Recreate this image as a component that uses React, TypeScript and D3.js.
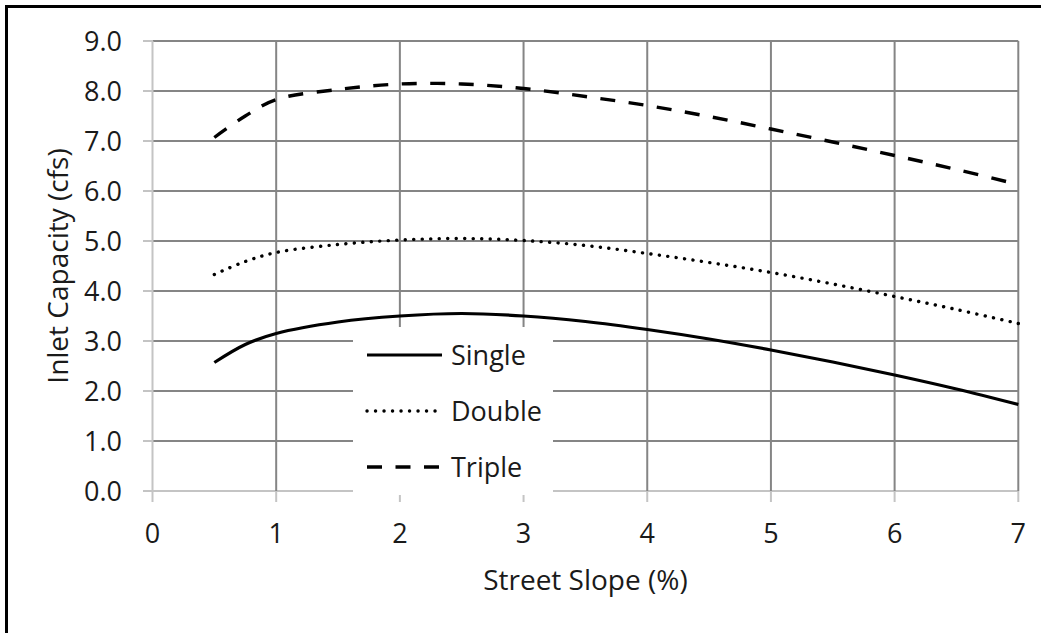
import React from "react";
import * as d3 from "d3";

const slopes = [0.5, 0.75, 1, 1.5, 2, 2.5, 3, 3.5, 4, 4.5, 5, 5.5, 6, 6.5, 7];
const single = [2.57, 2.93, 3.15, 3.38, 3.5, 3.55, 3.5, 3.39, 3.23, 3.04, 2.82, 2.58, 2.32, 2.04, 1.73];
const double = [4.33, 4.59, 4.77, 4.93, 5.02, 5.05, 5.01, 4.91, 4.75, 4.57, 4.37, 4.14, 3.89, 3.63, 3.35];
const triple = [7.07, 7.5, 7.83, 8.03, 8.14, 8.14, 8.05, 7.89, 7.71, 7.49, 7.24, 6.98, 6.71, 6.43, 6.13];
const seriesNames = ["Single", "Double", "Triple"];
const xTicks = [0, 1, 2, 3, 4, 5, 6, 7];
const yTicks = [0, 1, 2, 3, 4, 5, 6, 7, 8, 9];

const FONT = "'Open Sans', sans-serif";

export default function App() {
  const x = d3.scaleLinear().domain([0, 7]).range([152.5, 1018.3]);
  const y = d3.scaleLinear().domain([0, 9]).range([491, 41]);
  const line = d3
    .line<[number, number]>()
    .x((d) => x(d[0]))
    .y((d) => y(d[1]))
    .curve(d3.curveCatmullRom.alpha(0.5));

  const series = [single, double, triple];
  const styles = [
    { dash: undefined, cap: "butt", w: 3.2 },
    { dash: "0.1 8.4", cap: "round", w: 3.4 },
    { dash: "15 13.5", cap: "butt", w: 3.4 },
  ];

  const legendX = 353;
  const legendY = 327;
  const legendRows = [355, 411, 467];

  return (
    <svg
      width={1041}
      height={633}
      style={{ position: "absolute", left: 0, top: 0, background: "#fff" }}
    >
      <rect x={0} y={0} width={1041} height={633} fill="#fff" />
      {/* outer border */}
      <rect x={6.5} y={6.5} width={1100} height={700} fill="none" stroke="#000" strokeWidth={3} />

      {/* horizontal gridlines */}
      {yTicks.map((t) => (
        <line
          key={"hy" + t}
          x1={x(0)}
          x2={x(7)}
          y1={y(t)}
          y2={y(t)}
          stroke={t === 0 ? "#c4c4c4" : "#858585"}
          strokeWidth={2}
        />
      ))}
      {/* vertical gridlines */}
      {xTicks.map((t) => (
        <line
          key={"vx" + t}
          x1={x(t)}
          x2={x(t)}
          y1={y(9)}
          y2={y(0)}
          stroke={t === 0 ? "#c4c4c4" : "#858585"}
          strokeWidth={2}
        />
      ))}
      {/* y ticks */}
      {yTicks.map((t) => (
        <line key={"ty" + t} x1={143} x2={x(0)} y1={y(t)} y2={y(t)} stroke="#c4c4c4" strokeWidth={2} />
      ))}
      {/* x ticks */}
      {xTicks.map((t) => (
        <line key={"tx" + t} x1={x(t)} x2={x(t)} y1={y(0)} y2={502} stroke="#c4c4c4" strokeWidth={2} />
      ))}

      {/* series */}
      {series.map((vals, i) => (
        <path
          key={seriesNames[i]}
          d={line(slopes.map((s, j) => [s, vals[j]] as [number, number])) || ""}
          fill="none"
          stroke="#000"
          strokeWidth={styles[i].w}
          strokeDasharray={styles[i].dash}
          strokeLinecap={styles[i].cap as any}
          strokeLinejoin="round"
        />
      ))}

      {/* legend */}
      <rect x={legendX} y={legendY} width={200} height={168} fill="#fff" />
      {seriesNames.map((n, i) => (
        <g key={"lg" + n}>
          <line
            x1={367}
            x2={442}
            y1={legendRows[i]}
            y2={legendRows[i]}
            stroke="#000"
            strokeWidth={styles[i].w}
            strokeDasharray={styles[i].dash}
            strokeLinecap={styles[i].cap as any}
          />
          <text x={451} y={legendRows[i] + 9.7} fontFamily={FONT} fontSize={27} fill="#1a1a1a">
            {n}
          </text>
        </g>
      ))}

      {/* tick labels */}
      {yTicks.map((t) => (
        <text
          key={"ly" + t}
          x={122}
          y={y(t) + 9.7}
          textAnchor="end"
          fontFamily={FONT}
          fontSize={27}
          fill="#1a1a1a"
        >
          {t.toFixed(1)}
        </text>
      ))}
      {xTicks.map((t) => (
        <text
          key={"lx" + t}
          x={x(t)}
          y={543}
          textAnchor="middle"
          fontFamily={FONT}
          fontSize={27}
          fill="#1a1a1a"
        >
          {t}
        </text>
      ))}

      {/* axis titles */}
      <text
        x={(x(0) + x(7)) / 2}
        y={590}
        textAnchor="middle"
        fontFamily={FONT}
        fontSize={28}
        fill="#1a1a1a"
      >
        Street Slope (%)
      </text>
      <text
        transform={`translate(68, ${(y(0) + y(9)) / 2}) rotate(-90)`}
        textAnchor="middle"
        fontFamily={FONT}
        fontSize={28}
        fill="#1a1a1a"
      >
        Inlet Capacity (cfs)
      </text>
    </svg>
  );
}
